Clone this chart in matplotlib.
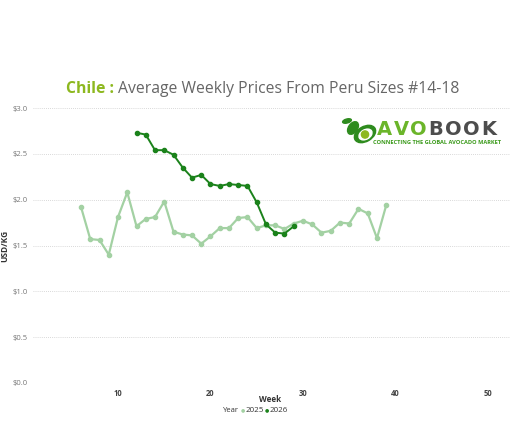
import matplotlib
matplotlib.use("Agg")
import matplotlib.pyplot as plt
from matplotlib.patches import Ellipse, Circle

plt.rcParams['font.family'] = ['Open Sans', 'DejaVu Sans']

weeks_2025 = [6, 7, 8, 9, 10, 11, 12, 13, 14, 15, 16, 17, 18, 19, 20, 21, 22, 23, 24, 25,
              26, 27, 28, 29, 30, 31, 32, 33, 34, 35, 36, 37, 38, 39]
prices_2025 = [1.92, 1.57, 1.56, 1.40, 1.81, 2.08, 1.71, 1.79, 1.81, 1.98, 1.65, 1.62, 1.61, 1.52,
               1.60, 1.69, 1.69, 1.80, 1.81, 1.69, 1.72, 1.72, 1.68, 1.74, 1.77, 1.73, 1.64, 1.66,
               1.75, 1.74, 1.90, 1.85, 1.58, 1.94]
weeks_2026 = [12, 13, 14, 15, 16, 17, 18, 19, 20, 21, 22, 23, 24, 25, 26, 27, 28, 29]
prices_2026 = [2.73, 2.71, 2.54, 2.54, 2.49, 2.35, 2.24, 2.27, 2.17, 2.15, 2.17, 2.16, 2.15, 1.97,
               1.73, 1.64, 1.63, 1.71]
y_ticks = [0.0, 0.5, 1.0, 1.5, 2.0, 2.5, 3.0]
x_ticks = [10, 20, 30, 40, 50]

c2025 = '#a3d1a3'
c2026 = '#1b821b'

W, H = 512, 434
fig = plt.figure(figsize=(5.12, 4.34), dpi=100)
ax = fig.add_axes([33/W, 1-383/H, (510-33)/W, (383-108)/H])

def fx(px):
    return px / W

def fy(py):
    return 1 - py / H

ax.plot(weeks_2025, prices_2025, color=c2025, lw=1.6, marker='o', ms=3, zorder=2)
ax.plot(weeks_2026, prices_2026, color=c2026, lw=1.4, marker='o', ms=3, zorder=3)

ax.set_xlim(0.81, 52.38)
ax.set_ylim(0, 3.0)
ax.set_yticks(y_ticks)
ax.set_yticklabels([f"${v:.1f}" for v in y_ticks], fontsize=5.5, color='#777777')
ax.set_xticks(x_ticks)
ax.set_xticklabels([str(v) for v in x_ticks], fontsize=5.5, color='#444444', fontweight='bold')
ax.tick_params(length=0, pad=4)
for s in ax.spines.values():
    s.set_visible(False)
ax.grid(axis='y', color='#cccccc', lw=0.6, ls=(0, (1, 1.5)))
ax.set_axisbelow(True)
ax.set_ylabel('USD/KG', fontsize=6, fontweight='bold', color='#333333')
ax.yaxis.set_label_coords((9 - 33) / 477, 0.5)
fig.text(fx(270.5), fy(399), 'Week', fontsize=5.8, fontweight='bold', color='#333333',
         ha='center', va='center')

# legend
ly = fy(410)
fig.text(fx(223), ly, 'Year', fontsize=5.5, color='#333333', ha='left', va='center')
fig.text(fx(243), ly, '●', fontsize=3.5, color=c2025, ha='center', va='center', family='DejaVu Sans')
fig.text(fx(246), ly, '2025', fontsize=5.8, color='#333333', ha='left', va='center')
fig.text(fx(267), ly, '●', fontsize=3.5, color=c2026, ha='center', va='center', family='DejaVu Sans')
fig.text(fx(270), ly, '2026', fontsize=5.8, color='#333333', ha='left', va='center')

# title
ty = fy(89)
t1 = fig.text(fx(66), ty, 'Chile :', fontsize=11.3, fontweight='bold', color='#8db81f',
              ha='left', va='center')
fig.canvas.draw()
bb = t1.get_window_extent()
fig.text(bb.x1 / W + 0.008, ty, 'Average Weekly Prices From Peru Sizes #14-18', fontsize=11.3,
         color='#666666', ha='left', va='center')

# logo icon
lax = fig.add_axes([fx(341), fy(145), 37 / W, 29 / H])
lax.set_xlim(0, 37)
lax.set_ylim(0, 29)
lax.set_aspect('equal')
lax.axis('off')
lax.add_patch(Ellipse((24, 11), 23, 15, angle=30, color='#2e8b1e'))
lax.add_patch(Ellipse((24.5, 10.5), 14, 9.5, angle=30, color='white'))
lax.add_patch(Circle((24, 10.5), 3.6, color='#8db81f'))
lax.add_patch(Ellipse((12, 17), 9, 14, angle=-35, color='#2e8b1e'))
lax.add_patch(Ellipse((6, 24), 9, 4, angle=15, color='#2e8b1e'))

# logo text, letter by letter
letters = [('A', '#6bb52a'), ('V', '#6bb52a'), ('O', '#6bb52a'),
           ('B', '#4d4d4d'), ('O', '#4d4d4d'), ('O', '#4d4d4d'), ('K', '#4d4d4d')]
x0 = 377
fig.canvas.draw()
renderer = fig.canvas.get_renderer()
for ch, col in letters:
    t = fig.text(fx(x0), fy(130), ch, fontsize=14, fontweight='bold', color=col,
                 ha='left', va='center', family='DejaVu Sans')
    x0 = t.get_window_extent(renderer).x1 + 1.6
fig.text(fx(373), fy(142.5), 'CONNECTING THE GLOBAL AVOCADO MARKET', fontsize=4.1,
         fontweight='bold', color='#3a9a1a', ha='left', va='center')

fig.savefig('out.png', dpi=100)
